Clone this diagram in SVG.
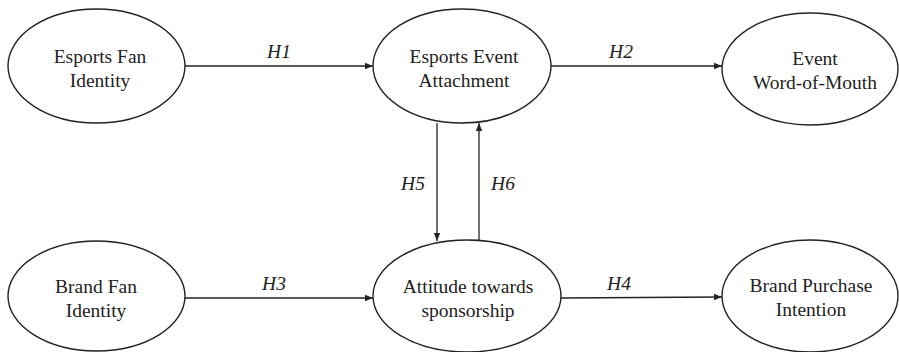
<svg xmlns="http://www.w3.org/2000/svg" width="899" height="352" viewBox="0 0 899 352">
<defs>
<marker id="ah" viewBox="0 0 10 10" refX="10" refY="5" markerWidth="8" markerHeight="8" markerUnits="userSpaceOnUse" orient="auto">
<path d="M0,1 L10,5 L0,9 z" fill="#222"/>
</marker>
<style>
.n ellipse{fill:#fff;stroke:#222;stroke-width:1.4}
.n text{font-family:"Liberation Serif","Times New Roman",serif;font-size:19.5px;fill:#222;text-anchor:middle}
.c line{stroke:#222;stroke-width:1.3;marker-end:url(#ah)}
.c text{font-family:"Liberation Serif","Times New Roman",serif;font-size:19.5px;font-style:italic;fill:#222;text-anchor:middle}
</style>
</defs>
<rect width="899" height="352" fill="#fff"/>
<g id="esports-fan-identity" class="n"><ellipse cx="96.5" cy="66" rx="88.5" ry="57"/><text x="100" y="63">Esports Fan</text><text x="100" y="87">Identity</text></g>
<g id="esports-event-attachment" class="n"><ellipse cx="462" cy="66" rx="89" ry="57"/><text x="464" y="63">Esports Event</text><text x="464" y="87">Attachment</text></g>
<g id="event-wom" class="n"><ellipse cx="810" cy="69" rx="88" ry="56"/><text x="815" y="65">Event</text><text x="815" y="89">Word-of-Mouth</text></g>
<g id="brand-fan-identity" class="n"><ellipse cx="96.5" cy="296" rx="88.5" ry="55"/><text x="96" y="293">Brand Fan</text><text x="96" y="317">Identity</text></g>
<g id="attitude-sponsorship" class="n"><ellipse cx="467" cy="296" rx="94" ry="56"/><text x="468" y="293">Attitude towards</text><text x="468" y="317">sponsorship</text></g>
<g id="brand-purchase-intention" class="n"><ellipse cx="810" cy="296" rx="88" ry="56"/><text x="811" y="292">Brand Purchase</text><text x="811" y="316">Intention</text></g>
<g id="connectors" class="c">
<line x1="185" y1="66" x2="373" y2="66"/><text x="279" y="58">H1</text>
<line x1="551" y1="66" x2="722" y2="66"/><text x="621" y="58">H2</text>
<line x1="185" y1="298" x2="373" y2="298"/><text x="274" y="290">H3</text>
<line x1="561" y1="298" x2="722" y2="297"/><text x="619" y="290">H4</text>
<line x1="437" y1="123" x2="437" y2="241"/><text x="413" y="190">H5</text>
<line x1="479" y1="240" x2="479" y2="123"/><text x="503" y="190">H6</text>
</g>
</svg>
